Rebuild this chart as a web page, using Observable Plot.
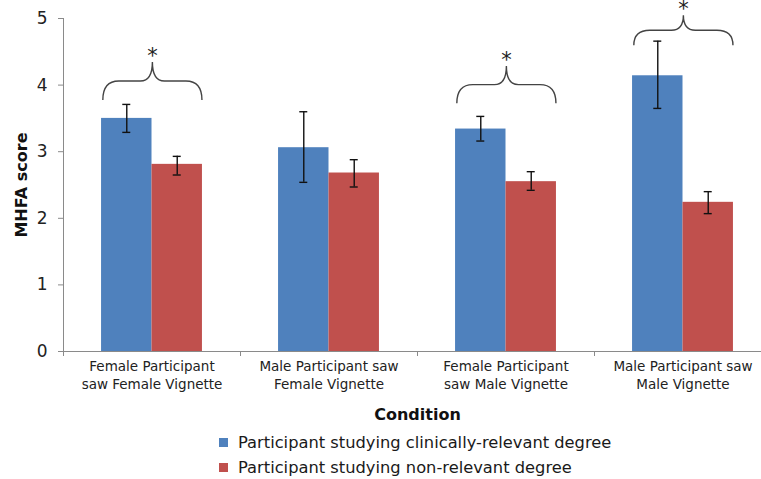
<!DOCTYPE html>
<html>
<head>
<meta charset="utf-8">
<script src="https://cdn.jsdelivr.net/npm/d3@7"></script>
<script src="https://cdn.jsdelivr.net/npm/@observablehq/plot@0.6"></script>
<style>
  html, body { margin: 0; padding: 0; background: #fff; }
  body { font-family: "DejaVu Sans", Verdana, sans-serif; width: 761px; height: 479px; overflow: hidden; }
  #chart svg { display: block; }
  #chart [aria-label="y-axis label"] text { font-size: 16px; font-weight: bold; fill: #111; }
  #chart [aria-label="x-axis label"] text { font-size: 16px; font-weight: bold; fill: #111; }
  .legend { padding-left: 219px; padding-top: 5px; }
  .legend .row { height: 25px; display: flex; align-items: center; font-size: 16.3px; color: #1a1a1a; }
  .legend .sw { width: 9px; height: 9px; margin-right: 10px; }
</style>
</head>
<body>
<div id="chart"></div>
<div class="legend" id="legend"></div>
<script>
// ---- data ----
const conditions = [
  "Female Participant saw Female Vignette",
  "Male Participant saw Female Vignette",
  "Female Participant saw Male Vignette",
  "Male Participant saw Male Vignette"
];
const tickLabels = [
  "Female Participant\nsaw Female Vignette",
  "Male Participant saw\nFemale Vignette",
  "Female Participant\nsaw Male Vignette",
  "Male Participant saw\nMale Vignette"
];
const seriesNames = [
  "Participant studying clinically-relevant degree",
  "Participant studying non-relevant degree"
];
const seriesColors = ["#4F81BD", "#C0504D"];
const clinicalMean = [3.50, 3.06, 3.34, 4.14];
const clinicalLow  = [3.29, 2.54, 3.16, 3.65];
const clinicalHigh = [3.71, 3.60, 3.53, 4.66];
const nonRelMean   = [2.81, 2.68, 2.55, 2.24];
const nonRelLow    = [2.65, 2.47, 2.42, 2.07];
const nonRelHigh   = [2.93, 2.88, 2.70, 2.40];
const significant  = [true, false, true, true];
const braceBase    = [3.77, null, 3.72, 4.59];
const braceTop     = [4.34, null, 4.28, 5.04];
const yTicks = [0, 1, 2, 3, 4, 5];
const yLabel = "MHFA score";
const xLabel = "Condition";

// ---- tables ----
const clinicalRows = conditions.map((c, i) => ({condition: c, mean: clinicalMean[i], lo: clinicalLow[i], hi: clinicalHigh[i]}));
const nonRelRows = conditions.map((c, i) => ({condition: c, mean: nonRelMean[i], lo: nonRelLow[i], hi: nonRelHigh[i]}));
const braceRows = conditions.map((c, i) => ({condition: c, sig: significant[i], base: braceBase[i], top: braceTop[i]})).filter(d => d.sig);
const labelOf = new Map(conditions.map((c, i) => [c, tickLabels[i]]));

// ---- layout ----
const W = 761, H = 425;
const mL = 63, mR = -10, mT = 18, mB = 74;
const bw = (W - mL - mR) / conditions.length;
const outer = bw * 0.215;       // gap between band edge and bar group
const half = bw * 0.5;
const errOff = bw * 0.1425;      // error bar offset from band centre
const capHalf = 4;

function extras(index, scales, values, dim) {
  const x = scales.x, y = scales.y;
  const band = typeof x.bandwidth === "function" ? x.bandwidth() : bw;
  const g = d3.create("svg:g");
  const x0 = dim.marginLeft, x1 = dim.width - dim.marginRight, y0 = y(0);
  const axisColor = "#8a8a8a";
  // y axis line
  g.append("line").attr("x1", x0 + 0.5).attr("x2", x0 + 0.5).attr("y1", y(yTicks[yTicks.length - 1])).attr("y2", y0)
    .attr("stroke", axisColor).attr("stroke-width", 1);
  // x axis line
  g.append("line").attr("x1", x0).attr("x2", x1).attr("y1", y0 + 0.5).attr("y2", y0 + 0.5)
    .attr("stroke", axisColor).attr("stroke-width", 1);
  // boundary ticks between categories
  const bounds = conditions.map(c => x(c)).concat([x(conditions[conditions.length - 1]) + band]);
  bounds.forEach(b => {
    g.append("line").attr("x1", b + 0.5).attr("x2", b + 0.5).attr("y1", y0).attr("y2", y0 + 5)
      .attr("stroke", axisColor).attr("stroke-width", 1);
  });
  // significance braces
  braceRows.forEach(d => {
    const xa = x(d.condition) + band * 0.225, xb = x(d.condition) + band * 0.785;
    const xm = (xa + xb) / 2;
    const yb = y(d.base), yp = y(d.top), yh = (yb + yp) / 2;
    const p = d3.path();
    p.moveTo(xa, yb);
    p.quadraticCurveTo(xa, yh, xa + 16, yh);
    p.lineTo(xm - 12, yh);
    p.quadraticCurveTo(xm, yh, xm, yp);
    p.quadraticCurveTo(xm, yh, xm + 12, yh);
    p.lineTo(xb - 16, yh);
    p.quadraticCurveTo(xb, yh, xb, yb);
    g.append("path").attr("d", p.toString()).attr("fill", "none").attr("stroke", "#444").attr("stroke-width", 1.4);
    g.append("text").attr("x", xm).attr("y", yp + 1).attr("text-anchor", "middle")
      .attr("font-size", 21).attr("fill", "#222").text("*");
  });
  return g.node();
}

const chart = Plot.plot({
  width: W, height: H,
  marginLeft: mL, marginRight: mR, marginTop: mT, marginBottom: mB,
  style: {fontFamily: "'DejaVu Sans', Verdana, sans-serif", background: "#fff", color: "#222"},
  x: {domain: conditions, padding: 0},
  y: {domain: [0, 5]},
  marks: [
    Plot.barY(clinicalRows, {x: "condition", y: "mean", fill: seriesColors[0], insetLeft: outer, insetRight: half}),
    Plot.barY(nonRelRows, {x: "condition", y: "mean", fill: seriesColors[1], insetLeft: half, insetRight: outer}),
    Plot.ruleX(clinicalRows, {x: "condition", y1: "lo", y2: "hi", dx: -errOff, stroke: "#111", strokeWidth: 1.4}),
    Plot.ruleX(nonRelRows, {x: "condition", y1: "lo", y2: "hi", dx: errOff, stroke: "#111", strokeWidth: 1.4}),
    Plot.tickY(clinicalRows, {x: "condition", y: "lo", dx: -errOff, insetLeft: bw / 2 - capHalf, insetRight: bw / 2 - capHalf, stroke: "#111", strokeWidth: 1.4}),
    Plot.tickY(clinicalRows, {x: "condition", y: "hi", dx: -errOff, insetLeft: bw / 2 - capHalf, insetRight: bw / 2 - capHalf, stroke: "#111", strokeWidth: 1.4}),
    Plot.tickY(nonRelRows, {x: "condition", y: "lo", dx: errOff, insetLeft: bw / 2 - capHalf, insetRight: bw / 2 - capHalf, stroke: "#111", strokeWidth: 1.4}),
    Plot.tickY(nonRelRows, {x: "condition", y: "hi", dx: errOff, insetLeft: bw / 2 - capHalf, insetRight: bw / 2 - capHalf, stroke: "#111", strokeWidth: 1.4}),
    Plot.axisY({ticks: yTicks, tickFormat: d => String(d), tickSize: 5, tickPadding: 11, fontSize: 17, stroke: "#8a8a8a",
      label: yLabel, labelAnchor: "center", labelOffset: 48, labelArrow: "none"}),
    Plot.axisX({tickSize: 0, tickPadding: 7, fontSize: 13.5, lineHeight: 1.3, tickFormat: c => labelOf.get(c),
      label: xLabel, labelAnchor: "center", labelOffset: 68, labelArrow: "none"}),
    extras
  ]
});
document.getElementById("chart").append(chart);

const legend = document.getElementById("legend");
seriesNames.forEach((name, i) => {
  const row = document.createElement("div");
  row.className = "row";
  const sw = document.createElement("span");
  sw.className = "sw";
  sw.style.background = seriesColors[i];
  const tx = document.createElement("span");
  tx.textContent = name;
  row.append(sw, tx);
  legend.append(row);
});
</script>
</body>
</html>
